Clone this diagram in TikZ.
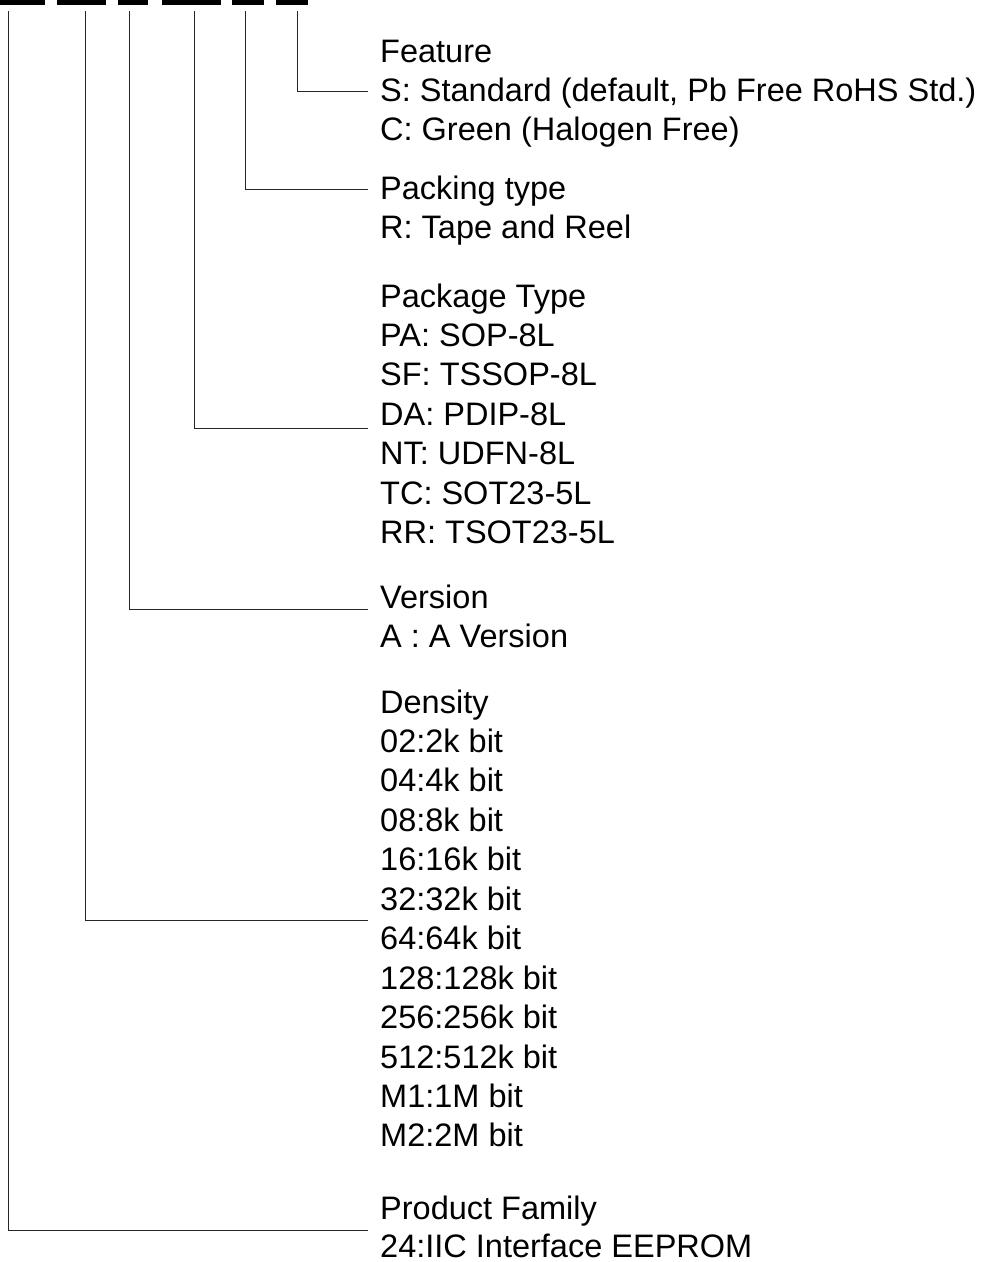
\documentclass[tikz,border=0pt]{standalone}
\usepackage{fontspec}
\setmainfont{Liberation Sans}
\usetikzlibrary{positioning}

\begin{document}
\begin{tikzpicture}[x=1pt, y=-1pt,
  lbl/.style={anchor=base west, inner sep=0pt, font=\fontsize{32.5}{39}\selectfont},
  bar/.style={fill=black, inner sep=0pt, minimum height=4.3pt, anchor=north west},
  lead/.style={line width=0.9pt, draw=black!85}]
  \useasboundingbox (0,0) rectangle (987,1262);

  % code bars
  \node[bar, minimum width=45pt] (famB) at (0,0) {};
  \node[bar, minimum width=49pt] (denB) at (57,0) {};
  \node[bar, minimum width=30pt] (verB) at (118,0) {};
  \node[bar, minimum width=59pt] (pkgB) at (162,0) {};
  \node[bar, minimum width=32pt] (packB) at (232,0) {};
  \node[bar, minimum width=32pt] (featB) at (276,0) {};

  % text groups
  \foreach \txt [count=\i] in {Feature, {S: Standard (default, Pb Free RoHS Std.)}, C: Green (Halogen Free)}
    \node[lbl] (feat-\i) at (380, {62+39.2*(\i-1)}) {\txt};
  \foreach \txt [count=\i] in {Packing type, R: Tape and Reel}
    \node[lbl] (pack-\i) at (380, {199+39.4*(\i-1)}) {\txt};
  \foreach \txt [count=\i] in {Package Type, PA: SOP-8L, SF: TSSOP-8L, DA: PDIP-8L, NT: UDFN-8L, TC: SOT23-5L, RR: TSOT23-5L}
    \node[lbl] (pkg-\i) at (380, {307+39.4*(\i-1)}) {\txt};
  \foreach \txt [count=\i] in {Version, A : A Version}
    \node[lbl] (ver-\i) at (380, {608+39.2*(\i-1)}) {\txt};
  \foreach \txt [count=\i] in {Density, 02:2k bit, 04:4k bit, 08:8k bit, 16:16k bit, 32:32k bit, 64:64k bit, 128:128k bit, 256:256k bit, 512:512k bit, M1:1M bit, M2:2M bit}
    \node[lbl] (den-\i) at (380, {713+39.45*(\i-1)}) {\txt};
  \foreach \txt [count=\i] in {Product Family, 24:IIC Interface EEPROM}
    \node[lbl] (fam-\i) at (380, {1219+38.5*(\i-1)}) {\txt};

  % lead lines
  \coordinate (featS) at (297,11);  \coordinate (featE) at (368,91);
  \coordinate (packS) at (245,11);  \coordinate (packE) at (368,189);
  \coordinate (pkgS) at (194,11);   \coordinate (pkgE) at (368,428);
  \coordinate (verS) at (129,11);   \coordinate (verE) at (368,609);
  \coordinate (denS) at (85,11);    \coordinate (denE) at (368,920);
  \coordinate (famS) at (8,11);     \coordinate (famE) at (368,1230);

  \draw[lead] (featS) |- (featE);
  \draw[lead] (packS) |- (packE);
  \draw[lead] (pkgS) |- (pkgE);
  \draw[lead] (verS) |- (verE);
  \draw[lead] (denS) |- (denE);
  \draw[lead] (famS) |- (famE);
\end{tikzpicture}
\end{document}
